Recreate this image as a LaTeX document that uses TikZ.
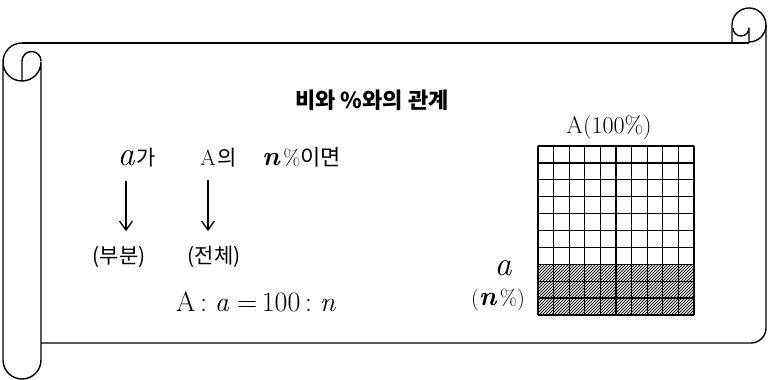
\documentclass[tikz,border=0pt]{standalone}
\usepackage{fontspec}
\usepackage{tikz}
\usetikzlibrary{arrows.meta,positioning,patterns}
\newfontfamily\kr{Noto Sans CJK KR}
\newcommand\bvar[1]{{\fontsize{27}{31}\selectfont\bfseries\itshape #1}}

\begin{document}
\begin{tikzpicture}[
  x=1pt,y=1pt,
  roll/.style={line width=1.4pt,line join=round},
  txt/.style={inner sep=0pt,font=\fontsize{22}{26}\selectfont},
  kor/.style={inner sep=0pt,font=\fontsize{21}{25}\selectfont\kr},
  heading/.style={inner sep=0pt,font=\fontsize{22}{26}\selectfont\kr\bfseries},
  var/.style={inner sep=0pt,font=\fontsize{34}{38}\selectfont\itshape},
  arrow/.style={-{Straight Barb[length=9pt,width=13pt]},line width=1.3pt},
  cell/.style={line width=1.3pt},
  hatch/.style={pattern=north east lines,pattern color=black}
]
  \useasboundingbox (0,0) rectangle (769,380);
  % scroll
  \draw[roll] (22,337) arc[start angle=90,end angle=360,radius=19] -- (41,20)
    arc[start angle=0,end angle=-180,radius=19] -- (3,318);
  \draw[roll] (22,299) -- (22,319) arc[start angle=180,end angle=0,radius=9.5];
  \draw[roll] (22,337) -- (749,337);
  \draw[roll,rounded corners=15pt] (41,37) -| (766,355);
  \draw[roll] (749,338) arc[start angle=-90,end angle=180,radius=17] -- (732,337);
  \draw[roll] (733,352) arc[start angle=180,end angle=360,radius=8] -- (749,337);

  \node[heading] (title) at (372,280) {비와 \%와의 관계};

  % a is n% of A
  \node[var,anchor=base] (a) at (126,214) {a};
  \node[kor,base right=2pt of a] (ga) {가};
  \node[txt,anchor=base] (A) at (208,214) {A};
  \node[kor,base right=1pt of A] (ui) {의};
  \node[txt,anchor=base west] (n) at (262,214) {\bvar{n}\,\%{\kr 이면}};
  \node[kor] (part) at (119,123) {(부분)};
  \node[kor] (whole) at (214,123) {(전체)};
  \draw[arrow,shorten <=14pt,shorten >=15pt] (a.south) -- (a.south |- part.north);
  \draw[arrow,shorten <=14pt,shorten >=15pt] (A.south) -- (A.south |- whole.north);
  \node[txt,font=\fontsize{28}{32}\selectfont,anchor=base] (eq) at (256,68)
    {A\,:\;\textit{a}\;=\,100\,:\;\textit{n}};

  % hundred squares
  \node[txt,font=\fontsize{24}{28}\selectfont] (total) at (609,252) {A(100\%)};
  \begin{scope}[shift={(538,65)},x=15.6pt,y=16.9pt]
    \fill[gray!30] (0,0) rectangle (10,3);
    \fill[hatch] (0,0) rectangle (10,3);
    \foreach \i in {0,...,10} \draw[cell] (\i,0) -- (\i,10);
    \foreach \j in {0,...,10} \draw[cell] (0,\j) -- (10,\j);
  \end{scope}
  \node[var] (sa) at (503,112) {a};
  \node[txt] (sn) at (498,80) {(\bvar{n}\,\%)};
\end{tikzpicture}
\end{document}
